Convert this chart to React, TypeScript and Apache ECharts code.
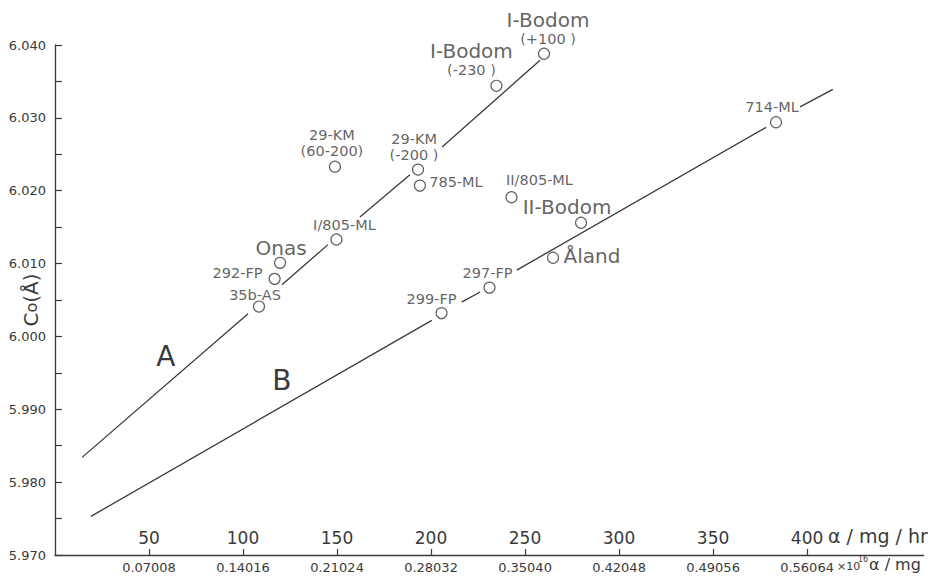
import React, { useEffect, useRef } from "react";
import * as echarts from "echarts";

const FONT = "DejaVu Sans";
const INK = "#3a3a3a";

// Axis ticks / labels
const xTopLabels = [50, 100, 150, 200, 250, 300, 350, 400];
const xBottomLabels = ["0.07008", "0.14016", "0.21024", "0.28032", "0.35040", "0.42048", "0.49056", "0.56064"];
const yLabelValues = [5.97, 5.98, 5.99, 6.0, 6.01, 6.02, 6.03, 6.04];

// Measured points (alpha/mg/hr, Co in Å)
const pointNames = [
  "I-Bodom (+100)", "I-Bodom (-230)", "29-KM (60-200)", "29-KM (-200)", "785-ML",
  "I/805-ML", "Onas", "292-FP", "35b-AS", "II/805-ML", "II-Bodom", "Åland",
  "297-FP", "299-FP", "714-ML",
];
const pointX = [260.1, 234.8, 148.9, 193.1, 194.1, 149.7, 119.7, 116.8, 108.5, 242.8, 279.8, 264.9, 231.1, 205.6, 383.5];
const pointY = [6.0388, 6.0344, 6.0233, 6.0229, 6.0207, 6.0133, 6.0101, 6.0079, 6.0041, 6.0191, 6.0156, 6.0108, 6.0067, 6.0032, 6.0294];
const pointLabels = [
  "{big|I-Bodom}\n{sm|(+100 )}",
  "{big|I-Bodom}\n{sm|(-230 )}",
  "{sm|29-KM}\n{sm|(60-200)}",
  "{sm|29-KM}\n{sm|(-200 )}",
  "{sm|785-ML}",
  "{sm|I/805-ML}",
  "{big|Onas}",
  "{sm|292-FP}",
  "{sm|35b-AS}",
  "{sm|II/805-ML}",
  "{big|II-Bodom}",
  "{big|Åland}",
  "{sm|297-FP}",
  "{sm|299-FP}",
  "{sm|714-ML}",
];
const labelOffsets = [
  [4, -26], [-25, -27], [-3, -24], [-4, -23], [36, -4],
  [8, -15], [1, -15], [-37, -6], [-4, -12], [28, -17],
  [-14, -16], [39, -2], [-2, -15], [-10, -14], [-4, -15],
];

// Fitted lines (segments broken where labels/circles sit)
const lineA = [
  [14.4, 5.9834], [102.7, 6.0031], [111, null],
  [120.7, 6.0071], [145.2, 6.0126], [153, null],
  [162.2, 6.0164], [188.8, 6.0222], [197, null],
  [205.9, 6.026], [258, 6.0379],
];
const lineB = [
  [19.1, 5.9753], [200.4, 6.0022], [208, null],
  [216.3, 6.0047], [226.1, 6.0061], [235, null],
  [245.6, 6.0091], [378.2, 6.0287], [387, null],
  [396.3, 6.0315], [413.7, 6.0339],
];
const lineLabelA = [59, 5.9973];
const lineLabelB = [120.7, 5.994];

export default function App() {
  const ref = useRef<HTMLDivElement>(null);
  useEffect(() => {
    if (!ref.current) return;
    const chart = echarts.init(ref.current, null, { renderer: "svg" });
    const rich = {
      big: { fontSize: 20, fontFamily: FONT, color: INK, lineHeight: 22 },
      sm: { fontSize: 14.5, fontFamily: FONT, color: INK, lineHeight: 16 },
    };
    const lineStyle = { color: INK, width: 1.3 };
    chart.setOption({
      animation: false,
      backgroundColor: "#ffffff",
      grid: { left: 55, top: 45, right: 7.4, bottom: 21, containLabel: false, outerBoundsMode: "none" },
      xAxis: [
        {
          type: "value",
          min: 0,
          max: 462,
          interval: 50,
          position: "bottom",
          axisLine: { show: true, onZero: false, lineStyle: { color: INK, width: 1.3 } },
          axisTick: { show: true, inside: true, length: 6, customValues: xTopLabels, lineStyle: { color: INK, width: 1.2 } },
          axisLabel: {
            inside: true,
            margin: 9,
            customValues: xTopLabels,
            formatter: (v: number) => String(v),
            fontSize: 17,
            fontFamily: FONT,
            color: INK,
          },
          splitLine: { show: false },
        },
        {
          type: "value",
          min: 0,
          max: 462,
          position: "bottom",
          axisLine: { show: false },
          axisTick: { show: false },
          axisLabel: {
            margin: 5,
            customValues: xTopLabels,
            formatter: (v: number) => xBottomLabels[xTopLabels.indexOf(Math.round(v))] ?? "",
            fontSize: 13,
            lineHeight: 14,
            fontFamily: FONT,
            color: INK,
          },
          splitLine: { show: false },
        },
      ],
      yAxis: {
        type: "value",
        min: 5.97,
        max: 6.04,
        interval: 0.005,
        name: "{c|C}{o|o}{c|(Å)}",
        nameLocation: "middle",
        nameRotate: 90,
        nameGap: 14,
        nameMoveOverlap: false,
        nameTextStyle: {
          rich: {
            c: { fontSize: 20, fontFamily: FONT, color: INK },
            o: { fontSize: 16, fontFamily: FONT, color: INK },
          },
        },
        axisLine: { show: true, lineStyle: { color: INK, width: 1.3 } },
        axisTick: { show: true, inside: true, length: 7, lineStyle: { color: INK, width: 1.2 } },
        axisLabel: {
          margin: 9,
          customValues: yLabelValues,
          formatter: (v: number) => v.toFixed(3),
          fontSize: 13,
          fontFamily: FONT,
          color: INK,
        },
        splitLine: { show: false },
      },
      graphic: [
        {
          type: "text",
          left: 828,
          top: 526,
          style: { text: "α / mg / hr", fontSize: 19, fontFamily: FONT, fill: INK },
        },
        {
          type: "text",
          left: 837,
          top: 561,
          style: { text: "×10", fontSize: 11, fontFamily: FONT, fill: INK },
        },
        {
          type: "text",
          left: 858,
          top: 555,
          style: { text: "16", fontSize: 8, fontFamily: FONT, fill: INK },
        },
        {
          type: "text",
          left: 869,
          top: 556,
          style: { text: "α / mg", fontSize: 16, fontFamily: FONT, fill: INK },
        },
      ],
      series: [
        {
          type: "line",
          name: "A",
          data: lineA,
          showSymbol: false,
          symbol: "none",
          connectNulls: false,
          lineStyle,
          z: 2,
          markPoint: {
            symbol: "circle",
            symbolSize: 0,
            label: { show: true, formatter: "A", fontSize: 28, fontFamily: FONT, color: INK, position: "inside" },
            data: [{ coord: lineLabelA }],
          },
        },
        {
          type: "line",
          name: "B",
          data: lineB,
          showSymbol: false,
          symbol: "none",
          connectNulls: false,
          lineStyle,
          z: 2,
          markPoint: {
            symbol: "circle",
            symbolSize: 0,
            label: { show: true, formatter: "B", fontSize: 28, fontFamily: FONT, color: INK, position: "inside" },
            data: [{ coord: lineLabelB }],
          },
        },
        {
          type: "scatter",
          name: "samples",
          symbol: "circle",
          symbolSize: 11,
          z: 5,
          itemStyle: { color: "#ffffff", borderColor: INK, borderWidth: 1.2 },
          data: pointNames.map((n, i) => ({
            name: n,
            value: [pointX[i], pointY[i]],
            label: {
              show: true,
              position: "inside",
              formatter: pointLabels[i],
              offset: labelOffsets[i],
              rich,
            },
          })),
        },
      ],
    });
    return () => chart.dispose();
  }, []);
  return (
    <div
      ref={ref}
      style={{ position: "fixed", left: 0, top: 0, width: 931, height: 576, background: "#fff" }}
    />
  );
}
